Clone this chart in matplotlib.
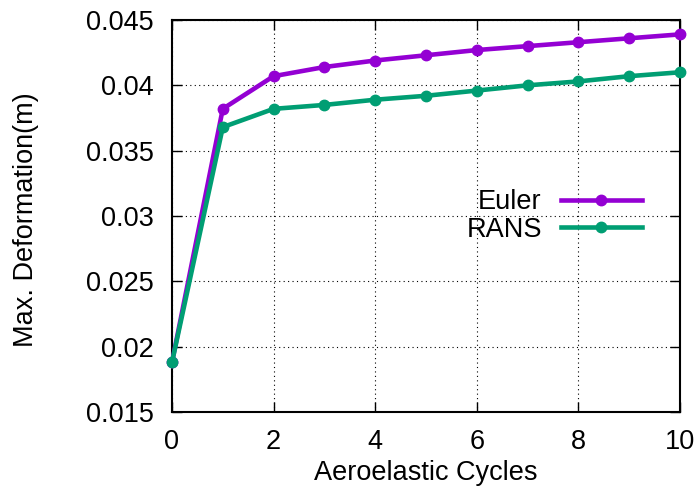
import matplotlib
matplotlib.use("Agg")
import matplotlib.pyplot as plt
from matplotlib.ticker import FuncFormatter

plt.rcParams['font.family'] = ['Liberation Sans', 'DejaVu Sans']

cycles = [0, 1, 2, 3, 4, 5, 6, 7, 8, 9, 10]
euler = [0.0188, 0.0382, 0.0407, 0.0414, 0.0419, 0.0423, 0.0427, 0.0430, 0.0433, 0.0436, 0.0439]
rans = [0.0188, 0.0368, 0.0382, 0.0385, 0.0389, 0.0392, 0.0396, 0.0400, 0.0403, 0.0407, 0.0410]
xticks = [0, 2, 4, 6, 8, 10]
yticks = [0.015, 0.02, 0.025, 0.03, 0.035, 0.04, 0.045]

FS = 19.5

fig = plt.figure(figsize=(7, 5), dpi=100)
ax = fig.add_axes([0.2457, 0.176, 0.7257, 0.784])

ax.plot(cycles, euler, color='#9400D3', lw=3.3, marker='o', ms=7.5, label='Euler', clip_on=False, zorder=3)
ax.plot(cycles, rans, color='#009E73', lw=3.3, marker='o', ms=7.5, label='RANS', clip_on=False, zorder=4)

ax.set_xlim(0, 10)
ax.set_ylim(0.015, 0.045)
ax.set_xticks(xticks)
ax.set_yticks(yticks)
ax.yaxis.set_major_formatter(FuncFormatter(lambda v, p: f"{v:g}"))
ax.tick_params(direction='in', length=7, width=1, top=True, right=True, labelsize=FS)
ax.tick_params(axis='y', pad=13)
ax.tick_params(axis='x', pad=12.5)
ax.grid(True, color='black', linestyle=(0, (1, 3)), linewidth=0.8)
for s in ax.spines.values():
    s.set_linewidth(1.5)

ax.set_xlabel('Aeroelastic Cycles', fontsize=FS, labelpad=3)
ax.set_ylabel('Max. Deformation(m)', fontsize=FS)
ax.yaxis.set_label_coords(-0.262, 0.49)

leg = ax.legend(loc='center right', bbox_to_anchor=(642 / 700, 1 - 216 / 500),
                bbox_transform=fig.transFigure, frameon=False, markerfirst=False,
                fontsize=FS, handlelength=3.0, handletextpad=0.7, labelspacing=0.05,
                borderpad=0, borderaxespad=0)
for t in leg.get_texts():
    t.set_ha('right')

fig.savefig('out.png', dpi=100)
